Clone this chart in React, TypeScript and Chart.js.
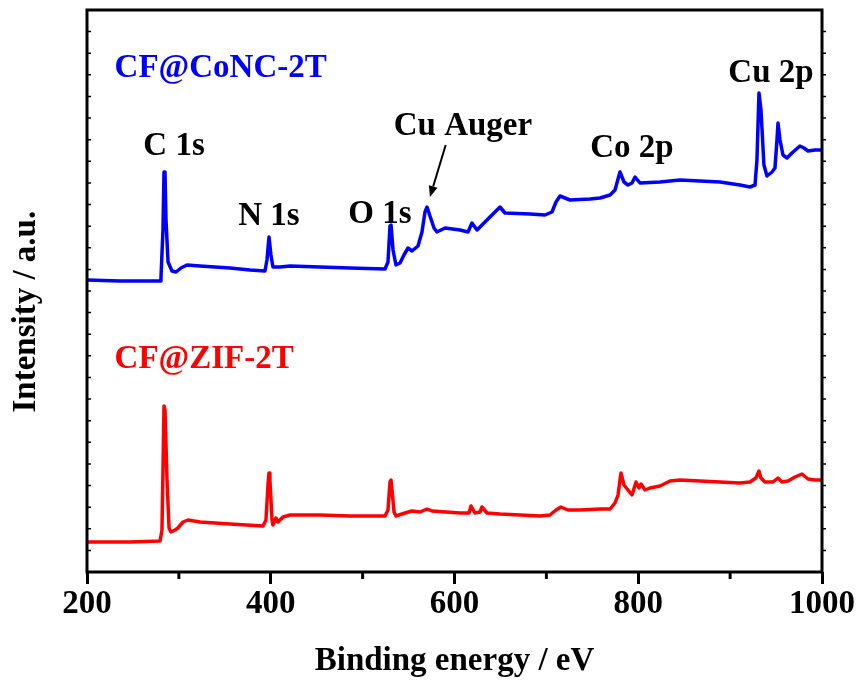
import React, { useEffect, useRef } from "react";
import { Chart, registerables } from "chart.js";

Chart.register(...registerables);

// Binding energy (eV) and intensity (a.u., offset-stacked) for CF@CoNC-2T
const conncEnergy = [
  200, 235.9, 279.5, 280.5, 282.7, 283.8, 284.9, 286.0, 288.2, 292.5, 296.9, 302.3, 308.8, 323.0, 355.6,
  377.4, 393.7, 395.9, 398.1, 400.2, 402.4, 410.1, 421.0, 453.6, 486.3, 524.4, 527.6, 529.8, 530.9, 533.1,
  536.3, 540.7, 545.0, 549.4, 553.7, 560.3, 564.6, 567.9, 570.1, 573.3, 577.7, 580.9, 589.7, 606.0, 614.7,
  619.0, 624.5, 633.2, 640.8, 649.5, 655.0, 682.2, 698.5, 706.1, 710.5, 714.8, 725.7, 747.5, 758.4, 769.3,
  774.7, 780.1, 784.5, 788.8, 793.2, 796.5, 801.9, 823.7, 845.4, 867.2, 889.0, 910.7, 921.6, 927.1, 929.2,
  931.4, 933.6, 936.8, 940.1, 945.6, 948.8, 951.0, 952.1, 954.3, 957.5, 961.9, 967.3, 976.0, 980.4, 984.8,
  992.4, 1000,
];
const conncIntensity = [
  292, 291, 291, 294, 342, 400, 400, 352, 310, 301, 300, 304, 307, 306, 304,
  302, 301, 312, 335, 317, 305, 305, 306, 305, 304, 303, 310, 346, 347, 322,
  307, 309, 317, 324, 321, 326, 340, 360, 365, 356, 344, 340, 344, 342, 340,
  349, 342, 350, 357, 365, 359, 358, 357, 360, 370, 376, 372, 373, 374, 377,
  382, 400, 390, 387, 389, 395, 389, 390, 392, 391, 390, 387, 385, 387, 412,
  479, 462, 407, 396, 400, 404, 432, 449, 432, 417, 414, 419, 426, 424, 421,
  422, 422,
];

// Binding energy (eV) and intensity (a.u.) for CF@ZIF-2T
const zifEnergy = [
  200, 246.8, 279.5, 281.6, 282.7, 283.8, 284.9, 287.1, 289.3, 291.4, 295.8, 299.0, 304.5, 309.9, 323.0,
  355.6, 391.6, 394.8, 397.0, 398.1, 399.1, 401.4, 402.4, 405.7, 407.9, 413.3, 421.0, 453.6, 486.3, 524.4,
  527.6, 529.8, 530.9, 532.0, 534.2, 536.3, 546.1, 553.7, 562.4, 570.1, 575.5, 606.0, 615.8, 618.0, 622.3,
  627.8, 629.9, 635.4, 649.5, 671.3, 693.1, 703.9, 710.5, 715.9, 723.5, 736.6, 758.4, 769.3, 774.7, 778.0,
  781.2, 784.5, 788.8, 793.2, 797.6, 800.8, 803.0, 807.4, 812.8, 823.7, 834.6, 845.4, 867.2, 889.0, 910.7,
  921.6, 928.1, 931.4, 933.6, 937.9, 946.6, 952.1, 956.4, 963.0, 970.6, 978.2, 984.8, 992.4, 1000,
];
const zifIntensity = [
  30, 30, 31, 42, 102, 166, 162, 92, 44, 40, 42, 44, 50, 52, 50,
  48, 46, 52, 87, 99, 92, 52, 47, 54, 50, 55, 57, 57, 56, 56,
  62, 90, 92, 82, 60, 56, 59, 61, 60, 63, 61, 59, 59, 66, 59,
  60, 65, 59, 58, 57, 56, 57, 62, 65, 62, 62, 63, 63, 69, 77,
  99, 87, 82, 77, 90, 84, 88, 82, 84, 86, 91, 92, 91, 90, 89,
  90, 94, 101, 94, 90, 90, 94, 90, 91, 95, 98, 93, 92, 92,
];

const xTickValues = [200, 400, 600, 800, 1000];
const xTickLabels = ["200", "400", "600", "800", "1000"];
const xMinorTickValues = [300, 500, 700, 900];
const Y_MAX = 562;
const Y_TICK_COUNT = 26;

// Peak labels: [text, energy, intensity at baseline, color, align]
const peakLabels: [string, number, number, string, CanvasTextAlign][] = [
  ["CF@CoNC-2T", 230, 495, "#0000ff", "left"],
  ["CF@ZIF-2T", 230, 204, "#ff0000", "left"],
  ["C 1s", 294.7, 417, "#000000", "center"],
  ["N 1s", 398.1, 347, "#000000", "center"],
  ["O 1s", 518.9, 349, "#000000", "center"],
  ["Cu Auger", 609.2, 437, "#000000", "center"],
  ["Co 2p", 793.2, 415, "#000000", "center"],
  ["Cu 2p", 944.5, 490, "#000000", "center"],
];
// Arrow from label to Cu Auger peak: [x0, y0, x1, y1]
const augerArrow = [590.4, 427, 573.3, 375];

const FAMILY = "'Liberation Serif', 'Times New Roman', serif";
const FONT = `bold 33px ${FAMILY}`;

const decorPlugin = {
  id: "decor",
  afterDatasetsDraw(chart: any) {
    const { ctx, chartArea, scales } = chart;
    const xs = scales.x;
    const ys = scales.y;
    ctx.save();
    // frame
    ctx.strokeStyle = "#000";
    ctx.lineWidth = 3;
    ctx.strokeRect(chartArea.left, chartArea.top, chartArea.right - chartArea.left, chartArea.bottom - chartArea.top);
    // minor x ticks
    for (const v of xMinorTickValues) {
      const px = xs.getPixelForValue(v);
      ctx.beginPath();
      ctx.moveTo(px, chartArea.bottom);
      ctx.lineTo(px, chartArea.bottom + 7);
      ctx.stroke();
    }
    // y minor ticks on both sides
    ctx.lineWidth = 1.5;
    for (let k = 1; k < Y_TICK_COUNT; k++) {
      const py = ys.getPixelForValue((k * Y_MAX) / Y_TICK_COUNT);
      ctx.beginPath();
      ctx.moveTo(chartArea.left, py);
      ctx.lineTo(chartArea.left + 4, py);
      ctx.moveTo(chartArea.right, py);
      ctx.lineTo(chartArea.right + 4, py);
      ctx.stroke();
    }
    // labels
    ctx.font = FONT;
    ctx.textBaseline = "alphabetic";
    for (const [text, ex, iy, color, align] of peakLabels) {
      ctx.fillStyle = color;
      ctx.textAlign = align;
      ctx.fillText(text, xs.getPixelForValue(ex), ys.getPixelForValue(iy));
    }
    // arrow
    const x0 = xs.getPixelForValue(augerArrow[0]);
    const y0 = ys.getPixelForValue(augerArrow[1]);
    const x1 = xs.getPixelForValue(augerArrow[2]);
    const y1 = ys.getPixelForValue(augerArrow[3]);
    const ang = Math.atan2(y1 - y0, x1 - x0);
    const head = 11;
    const hx = x1 - head * Math.cos(ang);
    const hy = y1 - head * Math.sin(ang);
    ctx.strokeStyle = "#000";
    ctx.lineWidth = 2;
    ctx.beginPath();
    ctx.moveTo(x0, y0);
    ctx.lineTo(hx, hy);
    ctx.stroke();
    ctx.fillStyle = "#000";
    ctx.beginPath();
    ctx.moveTo(x1, y1);
    ctx.lineTo(hx + 4.5 * Math.sin(ang), hy - 4.5 * Math.cos(ang));
    ctx.lineTo(hx - 4.5 * Math.sin(ang), hy + 4.5 * Math.cos(ang));
    ctx.closePath();
    ctx.fill();
    ctx.restore();
  },
};

export default function App() {
  const canvasRef = useRef<HTMLCanvasElement | null>(null);

  useEffect(() => {
    if (!canvasRef.current) return;
    const toPoints = (xs: number[], ys: number[]) => xs.map((x, i) => ({ x, y: ys[i] }));
    const chart = new Chart(canvasRef.current, {
      type: "line",
      data: {
        datasets: [
          {
            label: "CF@CoNC-2T",
            data: toPoints(conncEnergy, conncIntensity),
            borderColor: "#0000ff",
            borderWidth: 3.5,
            pointRadius: 0,
            tension: 0,
            borderJoinStyle: "round",
            fill: false,
          },
          {
            label: "CF@ZIF-2T",
            data: toPoints(zifEnergy, zifIntensity),
            borderColor: "#ff0000",
            borderWidth: 3.5,
            pointRadius: 0,
            tension: 0,
            borderJoinStyle: "round",
            fill: false,
          },
        ],
      },
      options: {
        animation: false,
        responsive: false,
        devicePixelRatio: 1,
        layout: { padding: { left: 0, right: 37, top: 10, bottom: 0 } },
        plugins: { legend: { display: false }, tooltip: { enabled: false } },
        scales: {
          x: {
            type: "linear",
            min: 200,
            max: 1000,
            afterBuildTicks: (scale: any) => {
              scale.ticks = xTickValues.map((v) => ({ value: v }));
            },
            afterFit: (scale: any) => {
              scale.height = 110;
            },
            ticks: {
              color: "#000",
              padding: 1,
              maxRotation: 0,
              autoSkip: false,
              callback: (value: any) => {
                const i = xTickValues.indexOf(Number(value));
                return i >= 0 ? xTickLabels[i] : "";
              },
              font: { family: FAMILY, size: 33, weight: "bold" },
            },
            grid: {
              display: true,
              drawOnChartArea: false,
              drawTicks: true,
              tickLength: 12,
              tickWidth: 3,
              tickColor: "#000",
              color: "#000",
            },
            border: { display: false },
            title: {
              display: true,
              text: "Binding energy / eV",
              color: "#000",
              padding: { top: 0, bottom: 1 },
              font: { family: FAMILY, size: 33, weight: "bold" },
            },
          },
          y: {
            type: "linear",
            min: 0,
            max: Y_MAX,
            afterFit: (scale: any) => {
              scale.width = 87;
            },
            ticks: { display: false },
            grid: { display: false },
            border: { display: false },
            title: {
              display: true,
              text: "Intensity / a.u.     ",
              color: "#000",
              padding: { top: 7, bottom: 0 },
              font: { family: FAMILY, size: 33, weight: "bold" },
            },
          },
        },
      },
      plugins: [decorPlugin],
    });
    return () => chart.destroy();
  }, []);

  return (
    <div style={{ position: "fixed", left: 0, top: 0, width: 859, height: 682, background: "#fff" }}>
      <canvas ref={canvasRef} width={859} height={682} />
    </div>
  );
}
